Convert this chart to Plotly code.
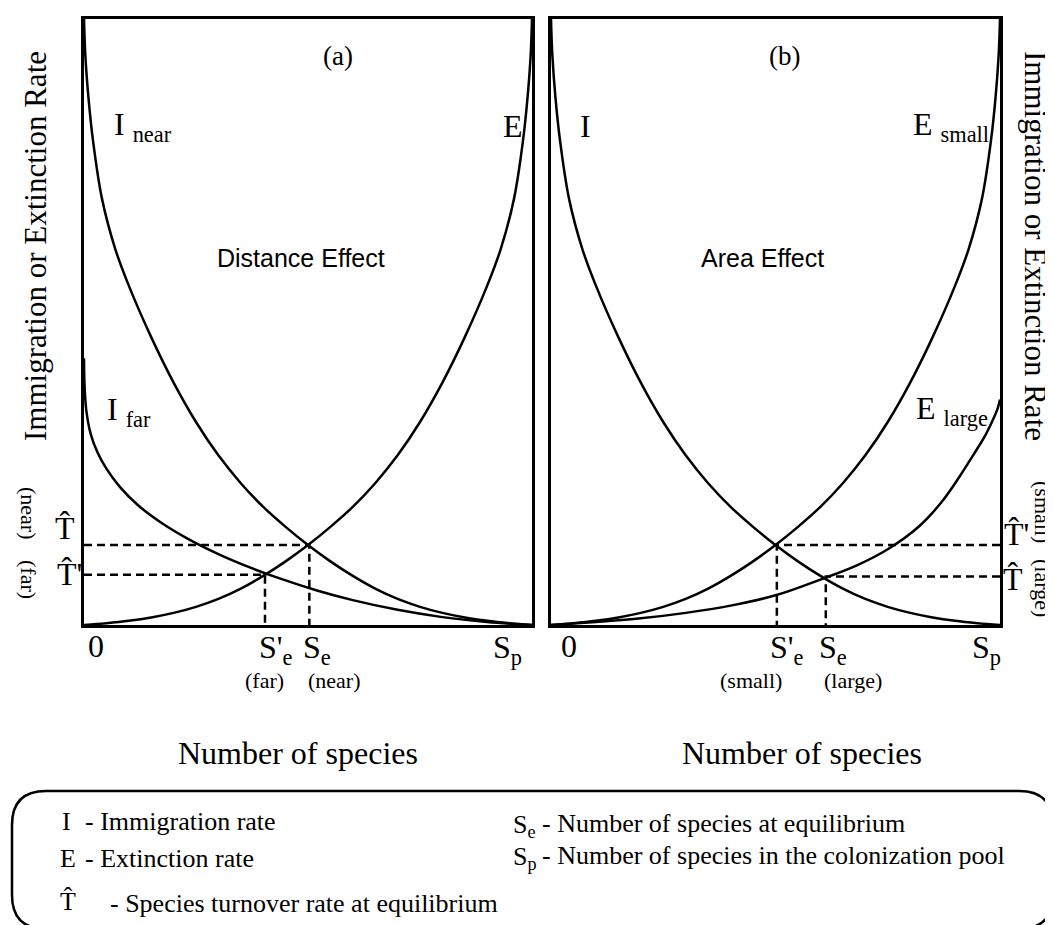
import plotly.graph_objects as go

W, H = 1053, 925

# ---------------- data (normalised: x = species / Sp, y = rate / max) ----------------
E_x = [0, 0.05, 0.1, 0.15, 0.2, 0.25, 0.3, 0.35, 0.4, 0.45, 0.5, 0.55, 0.6, 0.65, 0.7,
       0.75, 0.8, 0.85, 0.9, 0.93, 0.96, 0.98, 0.99, 0.997, 1.0]
E_y = [0, 0.003, 0.007, 0.0125, 0.020, 0.030, 0.043, 0.060, 0.081, 0.105, 0.132, 0.162, 0.195,
       0.234, 0.280, 0.335, 0.400, 0.475, 0.560, 0.620, 0.704, 0.800, 0.870, 0.940, 1.0]

I_near_x = [0, 0.003, 0.01, 0.02, 0.04, 0.07, 0.1, 0.15, 0.2, 0.25, 0.3, 0.35, 0.4, 0.45,
            0.5, 0.55, 0.6, 0.65, 0.7, 0.75, 0.8, 0.85, 0.9, 0.95, 1.0]
I_near_y = [1.0, 0.940, 0.870, 0.800, 0.704, 0.620, 0.560, 0.475, 0.400, 0.335, 0.280, 0.234,
            0.195, 0.162, 0.132, 0.105, 0.081, 0.060, 0.043, 0.030, 0.020, 0.0125, 0.007, 0.003, 0]

I_far_x = [0, 0.001, 0.005, 0.015, 0.03, 0.05, 0.08, 0.12, 0.17, 0.23, 0.3, 0.37, 0.44,
           0.52, 0.6, 0.7, 0.8, 0.9, 1.0]
I_far_y = [0.44, 0.40, 0.355, 0.315, 0.285, 0.258, 0.228, 0.198, 0.170, 0.143, 0.117, 0.095,
           0.076, 0.057, 0.041, 0.025, 0.013, 0.005, 0]

E_large_x = [0, 0.1, 0.2, 0.3, 0.4, 0.5, 0.6, 0.68, 0.75, 0.82, 0.87, 0.91, 0.94, 0.965,
             0.985, 0.995, 1.0]
E_large_y = [0, 0.005, 0.011, 0.020, 0.032, 0.049, 0.075, 0.098, 0.125, 0.163, 0.203, 0.245,
             0.280, 0.310, 0.340, 0.358, 0.372]

# equilibrium points (S / Sp, turnover rate)
Se_near, T_near = 0.503, 0.132
Se_far, T_far = 0.404, 0.083
Se_small, T_small = 0.503, 0.132
Se_large, T_large = 0.612, 0.080

SERIF = "Liberation Serif"
SANS = "Liberation Sans"


def px(x):
    return x / W


def py(y):
    return 1 - y / H


fig = go.Figure()

curve = dict(color="black", width=2.5, shape="spline", smoothing=1.0)
dash = dict(color="black", width=2.5, dash="8px,5px")

# panel (a)
fig.add_trace(go.Scatter(x=I_near_x, y=I_near_y, mode="lines", line=curve, xaxis="x", yaxis="y"))
fig.add_trace(go.Scatter(x=I_far_x, y=I_far_y, mode="lines", line=curve, xaxis="x", yaxis="y"))
fig.add_trace(go.Scatter(x=E_x, y=E_y, mode="lines", line=curve, xaxis="x", yaxis="y"))
for se, t in [(Se_near, T_near), (Se_far, T_far)]:
    fig.add_trace(go.Scatter(x=[0, se, se], y=[t, t, 0], mode="lines", line=dash, xaxis="x", yaxis="y"))

# panel (b)
fig.add_trace(go.Scatter(x=I_near_x, y=I_near_y, mode="lines", line=curve, xaxis="x2", yaxis="y2"))
fig.add_trace(go.Scatter(x=E_x, y=E_y, mode="lines", line=curve, xaxis="x2", yaxis="y2"))
fig.add_trace(go.Scatter(x=E_large_x, y=E_large_y, mode="lines", line=curve, xaxis="x2", yaxis="y2"))
for se, t in [(Se_small, T_small), (Se_large, T_large)]:
    fig.add_trace(go.Scatter(x=[1, se, se], y=[t, t, 0], mode="lines", line=dash, xaxis="x2", yaxis="y2"))

ax_common = dict(range=[0, 1], showgrid=False, zeroline=False, showticklabels=False, ticks="",
                 showline=True, mirror=True, linecolor="black", linewidth=3, fixedrange=True)
y_dom = [py(617), py(11)]

fig.update_layout(
    width=W, height=H,
    margin=dict(l=0, r=0, t=0, b=0),
    paper_bgcolor="white", plot_bgcolor="white",
    showlegend=False,
    xaxis=dict(domain=[px(76), px(524)], anchor="y", **ax_common),
    yaxis=dict(domain=y_dom, anchor="x", **ax_common),
    xaxis2=dict(domain=[px(543), px(992)], anchor="y2", **ax_common),
    yaxis2=dict(domain=y_dom, anchor="x2", **ax_common),
)

ann = []


def A(text, x, y, size=32, family=SERIF, angle=0, xanchor="center", yanchor="middle",
      xref="paper", yref="paper", xshift=0):
    if xref == "paper":
        x = px(x)
    if yref == "paper":
        y = py(y)
    ann.append(dict(text=text, x=x, y=y, xref=xref, yref=yref, showarrow=False,
                    font=dict(family=family, size=size, color="black"),
                    textangle=angle, xanchor=xanchor, yanchor=yanchor, xshift=xshift))


# axis titles
A("Immigration or Extinction Rate", 27, 238, size=31, angle=-90)
A("Immigration or Extinction Rate", 1028, 238, size=31, angle=90)
A("Number of species", 290, 745, size=32)
A("Number of species", 794, 745, size=32)

# panel letters & effect titles
A("(a)", 330, 48, size=27)
A("(b)", 776, 48, size=27)
A("Distance Effect", 293, 250, size=25, family=SANS)
A("Area Effect", 754, 250, size=25, family=SANS)

# curve labels
A("I <sub>near</sub>", 104, 118, size=32, xanchor="left")
A("E", 505, 118, size=32)
A("I <sub>far</sub>", 97, 403, size=32, xanchor="left")
A("I", 577, 118, size=32)
A("E <sub>small</sub>", 903, 118, size=32, xanchor="left")
A("E <sub>large</sub>", 906, 402, size=32, xanchor="left")

# T-hat labels
A("T\u0302", 57, 520, size=32)
A("T\u0302'", 61, 566, size=32)
A("T\u0302'", 1008, 526, size=32)
A("T\u0302", 1005, 571, size=32)
A("(near)", 21, 505, size=22, angle=90)
A("(far)", 21, 571, size=22, angle=90)
A("(small)", 1035, 504, size=22, angle=90)
A("(large)", 1035, 580, size=22, angle=90)

# x-axis point labels
A("0", 88, 638, size=32)
A("S<sub>p</sub>", 483, 641, size=32, xanchor="left")
A("0", 561, 638, size=32)
A("S<sub>p</sub>", 962, 641, size=32, xanchor="left")
A("S'<sub>e</sub>", Se_far, 641, size=32, xanchor="left", xref="x", xshift=-8)
A("S<sub>e</sub>", Se_near, 641, size=32, xanchor="left", xref="x", xshift=-8)
A("(far)", Se_far, 672, size=22, xref="x")
A("(near)", Se_near + 0.056, 672, size=22, xref="x")
A("S'<sub>e</sub>", Se_small, 641, size=32, xanchor="left", xref="x2", xshift=-9)
A("S<sub>e</sub>", Se_large, 641, size=32, xanchor="left", xref="x2", xshift=-9)
A("(small)", Se_small - 0.058, 672, size=22, xref="x2")
A("(large)", Se_large + 0.06, 672, size=22, xref="x2")

# legend box text
A("I", 58, 813, size=26)
A("- Immigration rate", 75, 813, size=26, xanchor="left")
A("E", 60, 850, size=26)
A("- Extinction rate", 75, 850, size=26, xanchor="left")
A("T\u0302", 60, 893, size=26)
A("- Species turnover rate at equilibrium", 100, 895, size=26, xanchor="left")
A("S<sub>e</sub>", 503, 818, size=26, xanchor="left")
A("- Number of species at equilibrium", 532, 815, size=26, xanchor="left")
A("S<sub>p</sub>", 503, 850, size=26, xanchor="left")
A("- Number of species in the colonization pool", 532, 847, size=26, xanchor="left")

fig.update_layout(annotations=ann)

# rounded legend frame
x0, x1, y0, y1, r = 4, 1045, 783, 921, 34


def P(x, y):
    return f"{px(x):.5f},{py(y):.5f}"


path = (f"M {P(x0 + r, y0)} L {P(x1 - r, y0)} Q {P(x1, y0)} {P(x1, y0 + r)} "
        f"L {P(x1, y1 - r)} Q {P(x1, y1)} {P(x1 - r, y1)} L {P(x0 + r, y1)} "
        f"Q {P(x0, y1)} {P(x0, y1 - r)} L {P(x0, y0 + r)} Q {P(x0, y0)} {P(x0 + r, y0)} Z")
fig.add_shape(type="path", path=path, xref="paper", yref="paper",
              line=dict(color="black", width=2.5), fillcolor="rgba(0,0,0,0)")

fig.write_html("out.html")
